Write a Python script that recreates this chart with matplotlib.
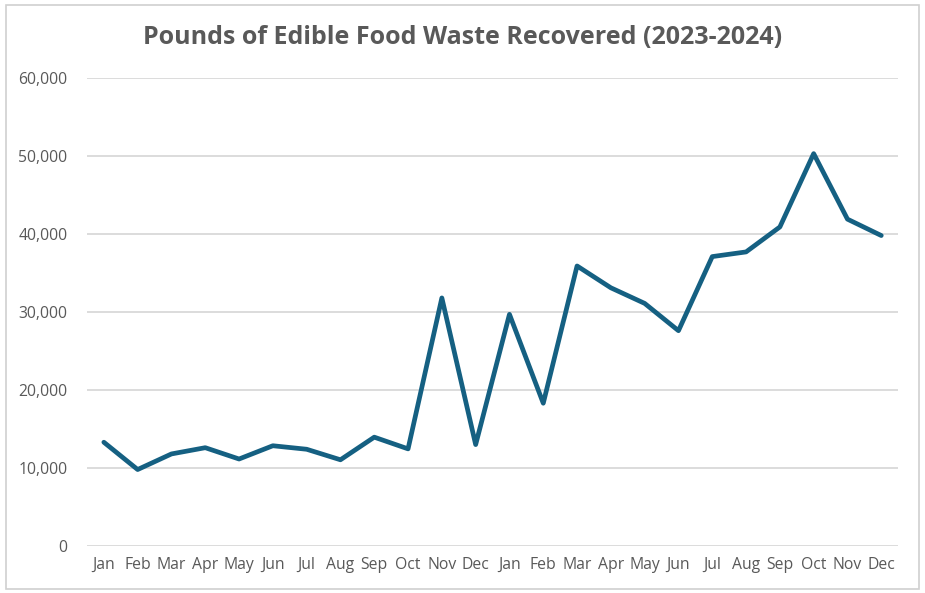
import matplotlib
matplotlib.use("Agg")
import matplotlib.pyplot as plt
from matplotlib.patches import Rectangle
from matplotlib.ticker import FuncFormatter

months = ["Jan", "Feb", "Mar", "Apr", "May", "Jun",
          "Jul", "Aug", "Sep", "Oct", "Nov", "Dec"]
labels = months + months
pounds_2023 = [13300, 9800, 11800, 12600, 11150, 12850,
               12400, 11050, 13950, 12450, 31800, 13000]
pounds_2024 = [29700, 18300, 35900, 33100, 31100, 27600,
               37100, 37700, 40900, 50300, 41900, 39800]
pounds = pounds_2023 + pounds_2024

plt.rcParams['font.family'] = ['Open Sans', 'DejaVu Sans']
grey = "#595959"

fig = plt.figure(figsize=(9.25, 5.93), dpi=100)
ax = fig.add_axes([0.094, 0.0793, 0.877, 0.7892])

x = range(len(pounds))
ax.plot(x, pounds, color="#156082", lw=3.4, solid_joinstyle="round",
        solid_capstyle="round", zorder=3)

ax.set_xlim(-0.5, len(pounds) - 0.5)
ax.set_ylim(0, 60000)
ax.set_yticks(range(0, 60001, 10000))
ax.yaxis.set_major_formatter(FuncFormatter(lambda v, p: f"{int(v):,}"))
ax.set_xticks(list(x))
ax.set_xticklabels(labels)
ax.grid(axis="y", color="#d9d9d9", lw=1.3)
ax.set_axisbelow(True)
for s in ax.spines.values():
    s.set_visible(False)
ax.tick_params(length=0, labelsize=11.3, colors=grey, pad=8)
ax.tick_params(axis="y", pad=14)

fig.suptitle("Pounds of Edible Food Waste Recovered (2023-2024)",
             fontsize=18, fontweight="bold", color=grey, y=0.958)

fig.patches.append(Rectangle((0.006, 0.007), 0.988, 0.985, transform=fig.transFigure,
                             fill=False, edgecolor="#d0d0d0", lw=1.2))

fig.savefig("out.png", dpi=100)
